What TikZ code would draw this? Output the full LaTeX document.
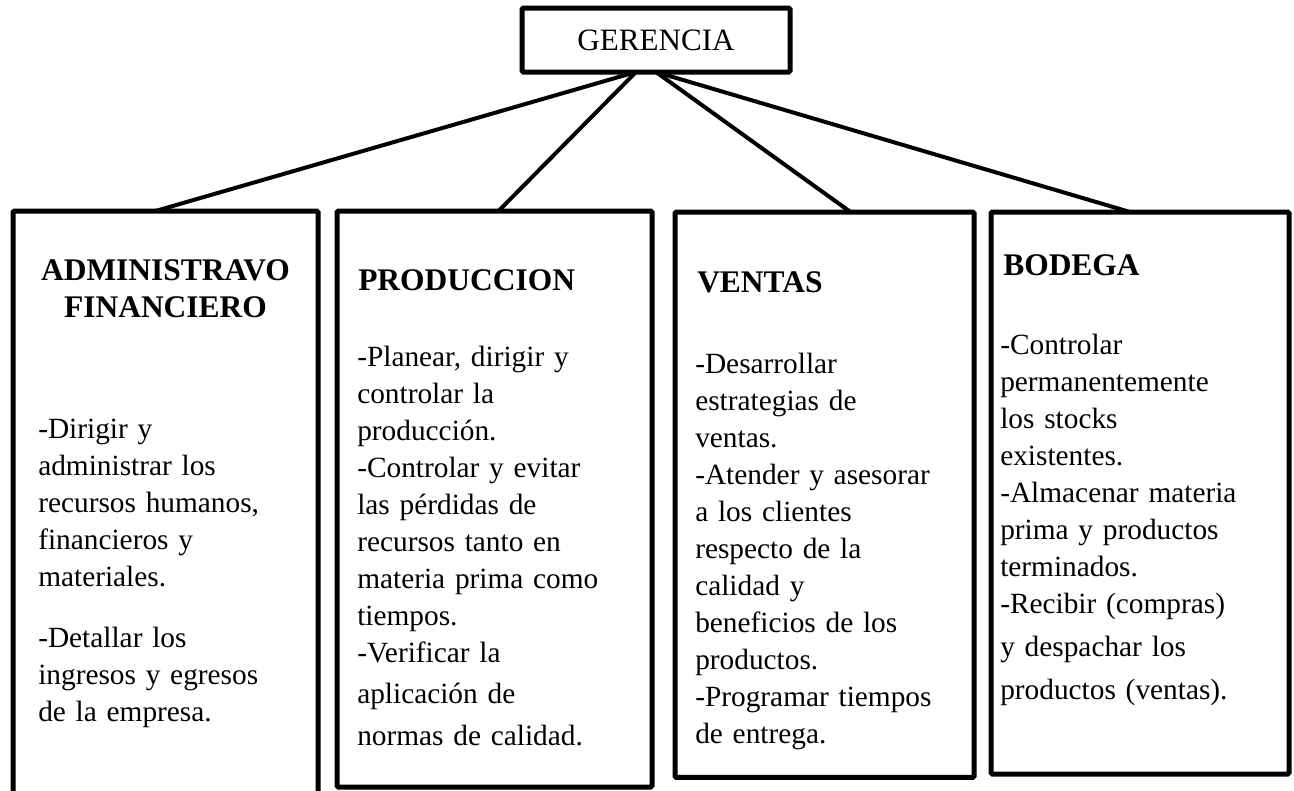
\documentclass[tikz,border=0pt]{standalone}
\usepackage{fontspec}
\setmainfont{Liberation Serif}
\begin{document}
\begin{tikzpicture}[x=0.75pt, y=-0.75pt,
    box/.style={draw, line width=3.75pt, rounded corners=1pt, inner sep=0pt, outer sep=0pt},
    head/.style={inner sep=0pt, align=left, text width=#1, font=\fontsize{23.6}{27.75}\selectfont\bfseries},
    body/.style={inner sep=0pt, align=left, text width=#1, font=\fontsize{22}{27.75}\selectfont},
    link/.style={line width=3pt}]
    \clip (0,0) rectangle (1294,790);
    \node[box, minimum width=201pt, minimum height=48pt, font=\fontsize{23.3}{28}\selectfont] (ger) at (656,40) {GERENCIA};
    % areas
    \node[box, anchor=north, minimum width=228.75pt, minimum height=460pt] (adm) at (165.5,211) {};
    \node[box, anchor=north, minimum width=236.25pt, minimum height=432pt] (prod) at (494.5,211) {};
    \node[box, anchor=north, minimum width=224.25pt, minimum height=424pt] (vent) at (824.5,212) {};
    \node[box, anchor=north, minimum width=223.5pt, minimum height=421.5pt] (bod) at (1140,212) {};
    \draw[link] ([xshift=-15pt]ger.south) -- ([xshift=-7.5pt]adm.north);
    \draw[link] ([xshift=-15pt]ger.south) -- ([xshift=3pt]prod.north);
    \draw[link] (ger.south) -- ([xshift=19.5pt]vent.north);
    \draw[link] (ger.south) -- ([xshift=-7.5pt]bod.north);
    % titulos
    \node[head=220pt, align=center, anchor=base] (adm-t) at (165.5,280) {ADMINISTRAVO\\FINANCIERO};
    \node[head=200pt, anchor=base west] (prod-t) at (358,290) {PRODUCCION};
    \node[head=200pt, anchor=base west] (vent-t) at (697,292) {VENTAS};
    \node[head=200pt, anchor=base west] (bod-t) at (1003,275) {BODEGA};
    % funciones
    \node[body=220pt, anchor=base west] (adm-b) at (38,438) {-Dirigir y\\ administrar los\\ recursos humanos,\\ financieros y\\ materiales.\\[18pt] -Detallar los\\ ingresos y egresos\\ de la empresa.};
    \node[body=225pt, anchor=base west] (prod-b) at (357,366) {-Planear, dirigir y\\ controlar la\\ producción.\\ -Controlar y evitar\\ las pérdidas de\\ recursos tanto en\\ materia prima como\\ tiempos.\\ -Verificar la\\[3pt] aplicación de\\[4pt] normas de calidad.};
    \node[body=215pt, anchor=base west] (vent-b) at (695,373) {-Desarrollar\\ estrategias de\\ ventas.\\ -Atender y asesorar\\ a los clientes\\ respecto de la\\ calidad y\\ beneficios de los\\ productos.\\ -Programar tiempos\\ de entrega.};
    \node[body=215pt, anchor=base west] (bod-b) at (1000,354) {-Controlar\\ permanentemente\\ los stocks\\ existentes.\\ -Almacenar materia\\ prima y productos\\ terminados.\\ -Recibir (compras)\\[5pt] y despachar los\\[4pt] productos (ventas).};
\end{tikzpicture}
\end{document}
